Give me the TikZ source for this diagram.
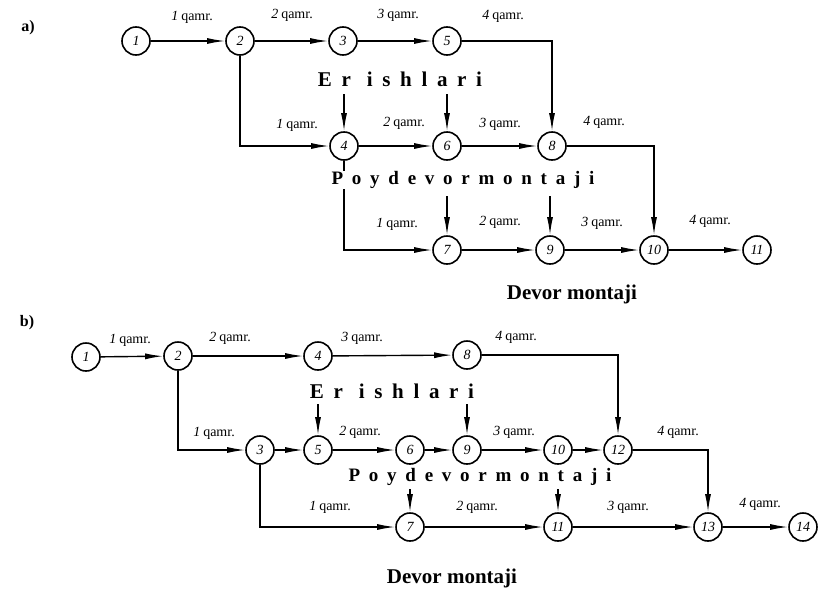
\documentclass[tikz,border=0pt]{standalone}
\usepackage{fontspec}
\setmainfont{Liberation Serif}
\newfontfamily\spacedfont[LetterSpace=46]{Liberation Serif}
\usetikzlibrary{arrows.meta,positioning}
\newcommand{\qm}[1]{{\itshape #1}\hspace{3pt}qamr.}
\newcommand{\erish}{\fontsize{21}{21}\selectfont Er\hspace{1pt} ishlari}

\begin{document}
\begin{tikzpicture}[
    x=1pt, y=-1pt,
    event/.style={circle, draw, line width=1.6pt, minimum size=28pt, inner sep=0pt, font=\fontsize{14}{14}\selectfont\itshape},
    arrow/.style={-{Latex[length=18pt,width=6pt]}, line width=1.4pt},
    lbl/.style={font=\fontsize{14}{14}\selectfont},
    work/.style={font=\fontsize{19}{19}\selectfont\bfseries\spacedfont, fill=white, inner sep=0pt},
    caption/.style={font=\fontsize{21}{21}\selectfont\bfseries},
    part/.style={font=\fontsize{16}{16}\selectfont\bfseries}
]
    \useasboundingbox (0,0) rectangle (819,592);

    % ---------- a) ----------
    \node[part] (pa) at (28,28) {a)};

    % Top row
    \node[event] (a1) at (136,41) {1};
    \node[event] (a2) at (240,41) {2};
    \node[event] (a3) at (343,41) {3};
    \node[event] (a5) at (447,41) {5};

    % Middle row
    \node[event] (a4) at (344,146) {4};
    \node[event] (a6) at (447,146) {6};
    \node[event] (a8) at (552,146) {8};

    % Bottom row
    \node[event] (a7) at (447,250) {7};
    \node[event] (a9) at (550,250) {9};
    \node[event] (a10) at (654,250) {10};
    \node[event] (a11) at (757,250) {11};

    % Arrows
    \draw[arrow] (a1) -- (a2);
    \draw[arrow] (a2) -- (a3);
    \draw[arrow] (a3) -- (a5);
    \draw[arrow] (a5) -| (a8);
    \draw[arrow] (a2) |- (a4);
    \draw[arrow] (a4) -- (a6);
    \draw[arrow] (a6) -- (a8);
    \draw[arrow] (a8) -| (a10);
    \draw[arrow] (a4) |- (a7);
    \draw[arrow] (a7) -- (a9);
    \draw[arrow] (a9) -- (a10);
    \draw[arrow] (a10) -- (a11);

    % Links between works
    \coordinate (ea4) at (344,94);
    \coordinate (ea6) at (447,94);
    \coordinate (ea7) at (447,196);
    \coordinate (ea9) at (550,196);
    \draw[arrow] (ea4) -- (a4);
    \draw[arrow] (ea6) -- (a6);
    \draw[arrow] (ea7) -- (a7);
    \draw[arrow] (ea9) -- (a9);

    % Labels
    \node[lbl] (la1) at (192,17) {\qm{1}};
    \node[lbl] (la2) at (292,15) {\qm{2}};
    \node[lbl] (la3) at (398,15) {\qm{3}};
    \node[lbl] (la4) at (503,16) {\qm{4}};
    \node[lbl] (la5) at (297,125) {\qm{1}};
    \node[lbl] (la6) at (404,123) {\qm{2}};
    \node[lbl] (la7) at (500,124) {\qm{3}};
    \node[lbl] (la8) at (604,122) {\qm{4}};
    \node[lbl] (la9) at (397,224) {\qm{1}};
    \node[lbl] (la10) at (500,222) {\qm{2}};
    \node[lbl] (la11) at (602,223) {\qm{3}};
    \node[lbl] (la12) at (710,221) {\qm{4}};

    \node[work] (wa1) at (400,79) {\erish};
    \node[work] (wa2) at (463,180) {Poydevormontaji};
    \node[caption] (wa3) at (572,294) {Devor montaji};

    % ---------- b) ----------
    \node[part] (pb) at (27,323) {b)};

    % Top row
    \node[event] (b1) at (86,357) {1};
    \node[event] (b2) at (178,356) {2};
    \node[event] (b4) at (318,356) {4};
    \node[event] (b8) at (467,355) {8};

    % Middle row
    \node[event] (b3) at (260,450) {3};
    \node[event] (b5) at (318,450) {5};
    \node[event] (b6) at (410,450) {6};
    \node[event] (b9) at (467,450) {9};
    \node[event] (b10) at (558,450) {10};
    \node[event] (b12) at (618,450) {12};

    % Bottom row
    \node[event] (b7) at (410,527) {7};
    \node[event] (b11) at (558,527) {11};
    \node[event] (b13) at (708,527) {13};
    \node[event] (b14) at (803,527) {14};

    % Arrows
    \draw[arrow] (b1) -- (b2);
    \draw[arrow] (b2) -- (b4);
    \draw[arrow] (b4) -- (b8);
    \draw[arrow] (b8) -| (b12);
    \draw[arrow] (b2) |- (b3);
    \draw[arrow] (b3) -- (b5);
    \draw[arrow] (b5) -- (b6);
    \draw[arrow] (b6) -- (b9);
    \draw[arrow] (b9) -- (b10);
    \draw[arrow] (b10) -- (b12);
    \draw[arrow] (b12) -| (b13);
    \draw[arrow] (b3) |- (b7);
    \draw[arrow] (b7) -- (b11);
    \draw[arrow] (b11) -- (b13);
    \draw[arrow] (b13) -- (b14);

    % Links between works
    \coordinate (eb5) at (318,404);
    \coordinate (eb9) at (467,404);
    \coordinate (eb7) at (410,489);
    \coordinate (eb11) at (558,489);
    \draw[arrow] (eb5) -- (b5);
    \draw[arrow] (eb9) -- (b9);
    \draw[arrow] (eb7) -- (b7);
    \draw[arrow] (eb11) -- (b11);

    % Labels
    \node[lbl] (lb1) at (130,340) {\qm{1}};
    \node[lbl] (lb2) at (230,338) {\qm{2}};
    \node[lbl] (lb3) at (362,338) {\qm{3}};
    \node[lbl] (lb4) at (516,337) {\qm{4}};
    \node[lbl] (lb5) at (214,433) {\qm{1}};
    \node[lbl] (lb6) at (360,432) {\qm{2}};
    \node[lbl] (lb7) at (514,432) {\qm{3}};
    \node[lbl] (lb8) at (678,432) {\qm{4}};
    \node[lbl] (lb9) at (330,507) {\qm{1}};
    \node[lbl] (lb10) at (477,507) {\qm{2}};
    \node[lbl] (lb11) at (628,507) {\qm{3}};
    \node[lbl] (lb12) at (760,504) {\qm{4}};

    \node[work] (wb1) at (392,391) {\erish};
    \node[work] (wb2) at (480,477) {Poydevormontaji};
    \node[caption] (wb3) at (452,578) {Devor montaji};
\end{tikzpicture}
\end{document}
